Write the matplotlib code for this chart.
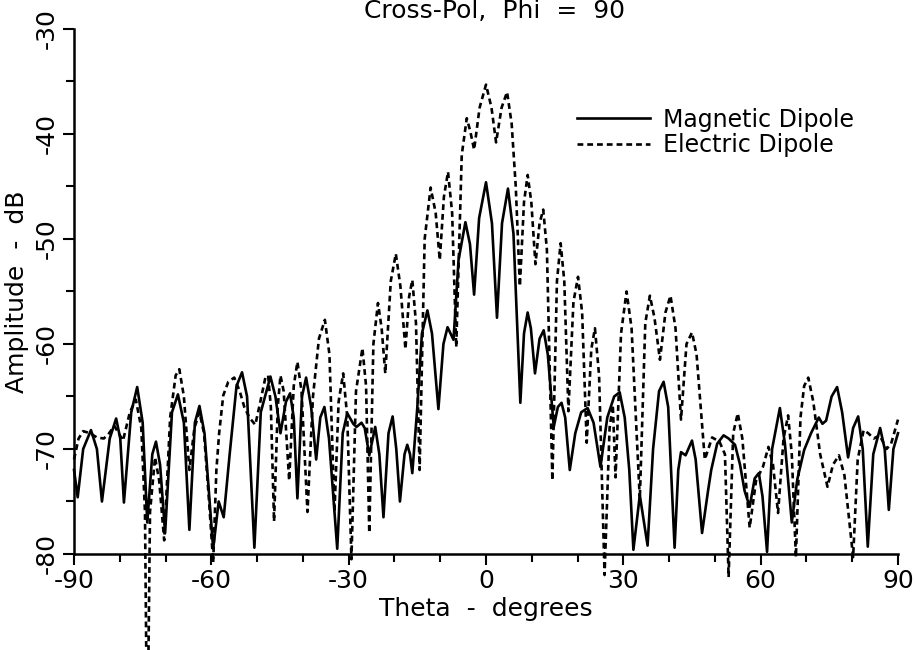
import numpy as np
import matplotlib
matplotlib.use("Agg")
import matplotlib.pyplot as plt
from matplotlib.ticker import MultipleLocator

# (theta deg, amplitude dB)
magnetic = [
    (-90.0, -72.0), (-89.2, -74.6), (-88.0, -70.0), (-86.3, -68.2), (-85.0, -70.0),
    (-83.9, -75.0), (-82.2, -69.0), (-80.8, -67.1), (-79.9, -69.0), (-79.1, -75.1),
    (-77.5, -66.5), (-76.2, -64.1), (-75.0, -67.5), (-74.0, -77.0), (-72.9, -70.5),
    (-72.1, -69.3), (-71.2, -71.5), (-70.1, -78.0), (-68.6, -66.5), (-67.3, -64.8),
    (-66.0, -67.5), (-64.8, -77.7), (-63.6, -67.5), (-62.6, -65.9), (-61.5, -68.5),
    (-59.6, -79.5), (-58.4, -75.0), (-57.3, -76.5), (-56.0, -70.5), (-54.5, -64.0),
    (-53.3, -62.7), (-52.2, -65.0), (-50.6, -79.4), (-49.2, -66.5), (-47.1, -63.1),
    (-46.0, -65.0), (-44.9, -68.5), (-43.7, -65.5), (-42.8, -64.7), (-42.0, -67.0),
    (-41.2, -74.7), (-40.2, -65.0), (-39.3, -63.2), (-38.2, -66.0), (-37.1, -71.0),
    (-36.2, -67.0), (-35.3, -66.0), (-34.3, -69.0), (-32.5, -79.5), (-31.3, -68.5),
    (-30.3, -66.6), (-29.0, -67.6), (-28.3, -67.9), (-27.2, -67.5), (-26.5, -68.0),
    (-25.5, -70.6), (-24.2, -67.9), (-23.3, -70.5), (-22.4, -76.5), (-21.3, -68.5),
    (-20.4, -66.9), (-19.6, -70.0), (-18.8, -75.0), (-17.8, -70.5), (-17.2, -69.6),
    (-16.6, -70.5), (-16.1, -72.3), (-15.0, -66.0), (-14.0, -59.0), (-12.8, -56.8),
    (-11.8, -59.0), (-10.4, -66.2), (-9.3, -60.0), (-8.4, -58.4), (-7.1, -59.6),
    (-6.0, -52.0), (-4.5, -48.4), (-3.5, -50.5), (-2.6, -55.3), (-1.5, -48.0),
    (0.0, -44.6), (1.3, -48.5), (2.4, -57.5), (3.5, -48.5), (4.8, -45.2),
    (6.0, -49.5), (7.5, -65.6), (8.3, -59.0), (9.1, -57.0), (9.8, -58.5),
    (10.7, -62.8), (11.7, -59.5), (12.6, -58.7), (13.5, -61.0), (14.8, -67.9),
    (15.7, -66.0), (16.5, -65.6), (17.3, -67.0), (18.3, -72.0), (19.5, -68.5),
    (20.8, -66.5), (22.2, -66.1), (23.5, -67.5), (25.0, -71.7), (26.5, -67.0),
    (28.0, -65.0), (29.2, -64.6), (30.3, -67.0), (31.3, -72.0), (32.2, -79.6),
    (33.6, -74.4), (35.3, -79.2), (36.5, -70.0), (37.8, -64.5), (38.8, -63.6),
    (39.8, -66.0), (41.2, -79.4), (42.0, -72.0), (42.6, -70.3), (43.6, -70.6),
    (45.0, -69.2), (45.8, -71.0), (47.2, -78.0), (48.5, -74.0), (49.2, -72.0),
    (50.5, -69.5), (51.9, -68.7), (53.0, -69.0), (54.4, -69.6), (55.5, -71.5),
    (56.5, -74.0), (57.6, -75.5), (58.7, -72.8), (59.6, -72.3), (60.4, -74.5),
    (61.4, -79.8), (62.5, -70.0), (64.2, -66.1), (65.3, -69.5), (66.8, -77.0),
    (68.0, -72.9), (69.5, -70.1), (71.0, -68.5), (72.7, -67.0), (73.5, -67.6),
    (74.3, -67.3), (75.5, -65.0), (76.7, -64.1), (77.8, -66.5), (79.1, -70.8),
    (80.2, -68.0), (81.3, -66.9), (82.3, -70.0), (83.4, -79.3), (84.6, -70.5),
    (86.1, -68.0), (87.1, -70.0), (88.0, -75.8), (89.0, -70.0), (90.0, -68.5),
]

electric = [
    (-90.0, -71.0), (-89.0, -69.0), (-88.0, -68.3), (-86.5, -68.5), (-85.0, -68.9),
    (-83.5, -69.0), (-82.5, -68.6), (-81.2, -67.8), (-79.3, -69.2), (-77.8, -66.5),
    (-76.5, -65.3), (-75.3, -68.0), (-74.5, -76.0), (-74.0, -100.0), (-73.4, -76.0),
    (-72.3, -70.8), (-71.4, -73.0), (-70.3, -78.7), (-69.0, -67.0), (-67.8, -63.0),
    (-67.0, -62.4), (-66.0, -65.0), (-64.8, -72.0), (-63.7, -68.0), (-62.6, -66.5),
    (-61.6, -68.5), (-60.5, -75.0), (-59.6, -80.8), (-58.9, -72.0), (-58.3, -68.5),
    (-57.4, -64.9), (-56.3, -63.6), (-55.0, -63.2), (-53.8, -64.5), (-52.8, -66.0),
    (-51.7, -67.0), (-50.4, -67.7), (-49.3, -65.5), (-48.2, -63.2), (-47.6, -63.0),
    (-47.0, -66.0), (-46.3, -76.9), (-45.5, -66.0), (-44.9, -63.0), (-44.2, -64.5),
    (-43.0, -73.0), (-42.0, -64.0), (-41.2, -61.7), (-40.3, -64.5), (-39.0, -76.0),
    (-37.8, -65.0), (-36.5, -59.5), (-35.2, -57.7), (-34.2, -61.0), (-33.1, -76.0),
    (-32.2, -65.5), (-31.2, -62.8), (-30.3, -67.0), (-29.4, -80.5), (-28.4, -64.5),
    (-27.0, -60.4), (-26.2, -64.0), (-25.5, -78.0), (-24.6, -60.0), (-23.6, -56.1),
    (-22.8, -58.5), (-22.0, -62.8), (-20.8, -54.0), (-19.7, -51.4), (-18.7, -54.5),
    (-17.6, -60.5), (-16.8, -55.5), (-16.1, -53.9), (-15.3, -58.0), (-14.5, -72.0),
    (-13.4, -50.0), (-12.1, -45.1), (-11.0, -47.5), (-10.1, -52.0), (-9.2, -46.0),
    (-8.3, -43.6), (-7.4, -47.5), (-6.5, -60.3), (-5.3, -42.0), (-4.2, -38.5),
    (-3.4, -39.8), (-2.6, -41.5), (-1.4, -37.5), (0.0, -35.3), (1.2, -37.5),
    (2.2, -40.8), (3.4, -37.5), (4.6, -36.0), (5.6, -39.0), (6.5, -45.0),
    (7.4, -54.5), (8.3, -46.5), (9.1, -43.9), (9.9, -46.5), (10.8, -52.4),
    (11.7, -48.5), (12.5, -47.2), (13.3, -51.0), (14.5, -73.0), (15.5, -54.0),
    (16.3, -50.4), (17.1, -54.0), (18.0, -66.4), (19.1, -56.0), (20.1, -53.6),
    (21.0, -57.0), (22.0, -69.4), (23.0, -60.5), (23.8, -58.5), (24.7, -63.0),
    (25.9, -82.0), (27.0, -68.0), (27.7, -65.8), (28.3, -72.7), (29.5, -59.0),
    (30.7, -55.0), (31.8, -58.5), (33.6, -74.8), (34.8, -58.0), (35.8, -55.4),
    (36.8, -57.5), (38.0, -61.5), (39.2, -57.0), (40.3, -55.4), (41.4, -58.5),
    (42.6, -67.2), (43.8, -60.0), (45.0, -58.9), (46.0, -61.0), (47.8, -71.0),
    (49.4, -68.9), (51.0, -69.3), (52.2, -70.5), (53.0, -82.2), (54.0, -68.5),
    (55.0, -66.6), (56.0, -69.0), (57.6, -77.5), (59.0, -73.0), (60.5, -71.7),
    (61.7, -69.8), (62.7, -71.5), (63.8, -76.1), (65.0, -69.0), (66.0, -66.8),
    (66.8, -70.5), (67.7, -80.3), (68.7, -67.0), (69.5, -64.0), (70.4, -63.2),
    (71.5, -65.5), (73.0, -70.5), (74.6, -73.6), (75.8, -71.5), (77.1, -70.6),
    (78.3, -72.5), (80.2, -80.3), (81.2, -71.0), (82.5, -68.2), (83.5, -68.5),
    (84.7, -69.0), (86.0, -68.7), (87.5, -70.0), (88.5, -69.5), (90.0, -67.2),
]

labels = ["Magnetic Dipole", "Electric Dipole"]
title = "Cross-Pol,  Phi  =  90"
x_ticks = [-90, -60, -30, 0, 30, 60, 90]
y_ticks = [-80, -70, -60, -50, -40, -30]

plt.rcParams["font.family"] = ["DejaVu Sans"]
plt.rcParams["axes.unicode_minus"] = False

fig = plt.figure(figsize=(9.15, 6.5), dpi=100)
ax = fig.add_axes([0.0809, 0.1477, 0.9005, 0.8077])

mt, md = np.array(magnetic).T
et, ed = np.array(electric).T
ax.plot(mt, md, color="black", lw=1.9, clip_on=False, label=labels[0])
ax.plot(et, ed, color="black", lw=1.9, linestyle=(0, (2.2, 1.5)),
        clip_on=False, label=labels[1])

ax.set_xlim(-90, 90)
ax.set_ylim(-80, -30)
ax.set_xticks(x_ticks)
ax.set_yticks(y_ticks)
ax.xaxis.set_minor_locator(MultipleLocator(10))
ax.yaxis.set_minor_locator(MultipleLocator(5))
ax.tick_params(axis="both", which="major", length=8, width=1.5,
               labelsize=18, pad=3)
ax.tick_params(axis="both", which="minor", length=6, width=1.5)
plt.setp(ax.get_yticklabels(), rotation=90, va="center")

for side in ["top", "right"]:
    ax.spines[side].set_visible(False)
for side in ["left", "bottom"]:
    ax.spines[side].set_linewidth(1.8)

ax.set_xlabel("Theta  -  degrees", fontsize=18, labelpad=3)
ax.set_ylabel("Amplitude  -  dB", fontsize=18, labelpad=4)
fig.text(0.54, 0.972, title, ha="center", va="baseline", fontsize=18)

ax.legend(loc="upper left", bbox_to_anchor=(0.61, 0.85), frameon=False,
          fontsize=17, handlelength=3.1, handletextpad=0.55,
          labelspacing=0.05, borderpad=0, borderaxespad=0)

fig.savefig("out.png", dpi=100, facecolor="white")
